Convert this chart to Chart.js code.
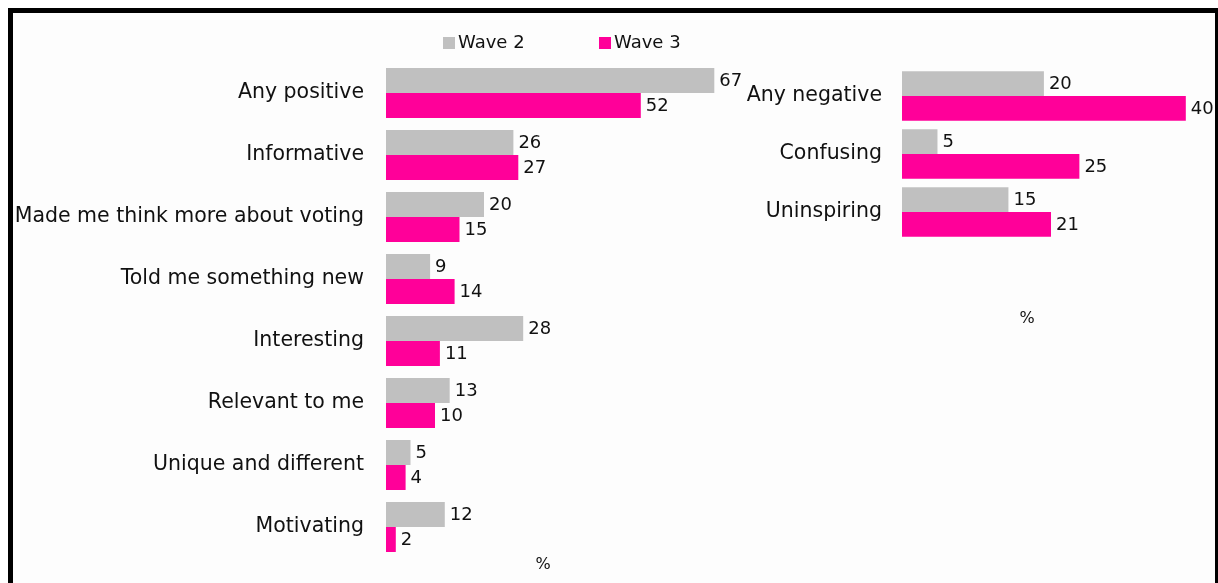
<!DOCTYPE html>
<html>
<head>
<meta charset="utf-8">
<title>Reactions to the campaign: Wave 2 vs Wave 3</title>
<script src="https://cdn.jsdelivr.net/npm/chart.js@4/dist/chart.umd.min.js"></script>
<style>
  html, body { margin: 0; padding: 0; background: #ffffff; }
  #stage { position: relative; width: 1218px; height: 583px; overflow: hidden; }
  #panel {
    position: absolute; left: 8px; top: 8px; width: 1210px; height: 620px;
    box-sizing: border-box; background: #fdfdfd;
  }
  canvas { position: absolute; top: 0; }
  #leftChart { left: 0; }
  #rightChart { left: 740px; }
  #frame {
    position: absolute; left: 8px; top: 8px; width: 1210px; height: 620px;
    box-sizing: border-box; pointer-events: none;
    border-left: 5px solid #000; border-top: 5px solid #000; border-right: 3px solid #000;
  }
</style>
</head>
<body>
<div id="stage">
  <div id="panel"></div>
  <canvas id="leftChart" width="760" height="583"></canvas>
  <canvas id="rightChart" width="478" height="583"></canvas>
  <div id="frame"></div>
</div>
<script>
// Survey reactions, percentages per wave
const seriesLabels = ['Wave 2', 'Wave 3'];
const seriesColors = ['#c0c0c0', '#ff0099'];

const positiveCategories = ['Any positive', 'Informative', 'Made me think more about voting',
  'Told me something new', 'Interesting', 'Relevant to me', 'Unique and different', 'Motivating'];
const positiveWave2 = [67, 26, 20, 9, 28, 13, 5, 12];
const positiveWave3 = [52, 27, 15, 14, 11, 10, 4, 2];

const negativeCategories = ['Any negative', 'Confusing', 'Uninspiring'];
const negativeWave2 = [20, 5, 15];
const negativeWave3 = [40, 25, 21];

const unitLabel = '%';
const FONT = '"DejaVu Sans", "Liberation Sans", Arial, sans-serif';
const INK = '#111111';

// Writes each bar's value just past the end of the bar
const valueLabels = {
  id: 'valueLabels',
  afterDatasetsDraw(chart) {
    const ctx = chart.ctx;
    ctx.save();
    ctx.font = '18px ' + FONT;
    ctx.fillStyle = INK;
    ctx.textAlign = 'left';
    ctx.textBaseline = 'middle';
    chart.data.datasets.forEach((ds, di) => {
      const meta = chart.getDatasetMeta(di);
      meta.data.forEach((bar, i) => {
        ctx.fillText(String(ds.data[i]), bar.x + 5, bar.y + 1);
      });
    });
    ctx.restore();
  }
};

// Unit caption under the bars
const unitCaption = {
  id: 'unitCaption',
  afterDraw(chart, args, opts) {
    const ctx = chart.ctx;
    ctx.save();
    ctx.font = '16px ' + FONT;
    ctx.fillStyle = INK;
    ctx.textAlign = 'center';
    ctx.textBaseline = 'middle';
    ctx.fillText(opts.text, opts.x, opts.y);
    ctx.restore();
  }
};

// Series key with small square swatches
const seriesKey = {
  id: 'seriesKey',
  afterDraw(chart, args, opts) {
    if (!opts.items) return;
    const ctx = chart.ctx;
    ctx.save();
    ctx.font = '18px ' + FONT;
    ctx.textAlign = 'left';
    ctx.textBaseline = 'middle';
    chart.data.datasets.forEach((ds, i) => {
      const x = opts.items[i];
      ctx.fillStyle = ds.backgroundColor;
      ctx.fillRect(x, opts.y - 6, 12, 12);
      ctx.fillStyle = INK;
      ctx.fillText(ds.label, x + 15, opts.y);
    });
    ctx.restore();
  }
};

function makeChart(id, categories, wave2, wave3, cfg) {
  return new Chart(document.getElementById(id), {
    type: 'bar',
    data: {
      labels: categories,
      datasets: [
        { label: seriesLabels[0], data: wave2, backgroundColor: seriesColors[0] },
        { label: seriesLabels[1], data: wave3, backgroundColor: seriesColors[1] }
      ]
    },
    options: {
      indexAxis: 'y',
      responsive: false,
      animation: false,
      maintainAspectRatio: false,
      categoryPercentage: cfg.categoryPercentage,
      barPercentage: 1,
      layout: { padding: { left: 0, top: cfg.top, right: cfg.right, bottom: cfg.bottom } },
      scales: {
        x: { display: false, min: 0, max: cfg.max },
        y: {
          grid: { display: false, drawTicks: false },
          border: { display: false },
          ticks: { color: INK, font: { family: FONT, size: 20.5 }, padding: cfg.labelGap },
          afterFit(scale) {
            scale.width = cfg.axisWidth;
            // category labels sit inside their bands, so no extra room above/below
            scale.paddingTop = 0;
            scale.paddingBottom = 0;
          }
        }
      },
      plugins: {
        legend: { display: false },
        tooltip: { enabled: false },
        unitCaption: cfg.caption,
        seriesKey: cfg.key || {}
      }
    },
    plugins: [valueLabels, unitCaption, seriesKey]
  });
}

makeChart('leftChart', positiveCategories, positiveWave2, positiveWave3, {
  categoryPercentage: 0.806, max: 70, top: 62, right: 31, bottom: 25,
  axisWidth: 386, labelGap: 22,
  caption: { text: unitLabel, x: 543, y: 565 },
  key: { items: [443, 599], y: 43 }
});

makeChart('rightChart', negativeCategories, negativeWave2, negativeWave3, {
  categoryPercentage: 0.85, max: 42, top: 67, right: 18, bottom: 342,
  axisWidth: 162, labelGap: 20,
  caption: { text: unitLabel, x: 287, y: 319 }
});
</script>
</body>
</html>
